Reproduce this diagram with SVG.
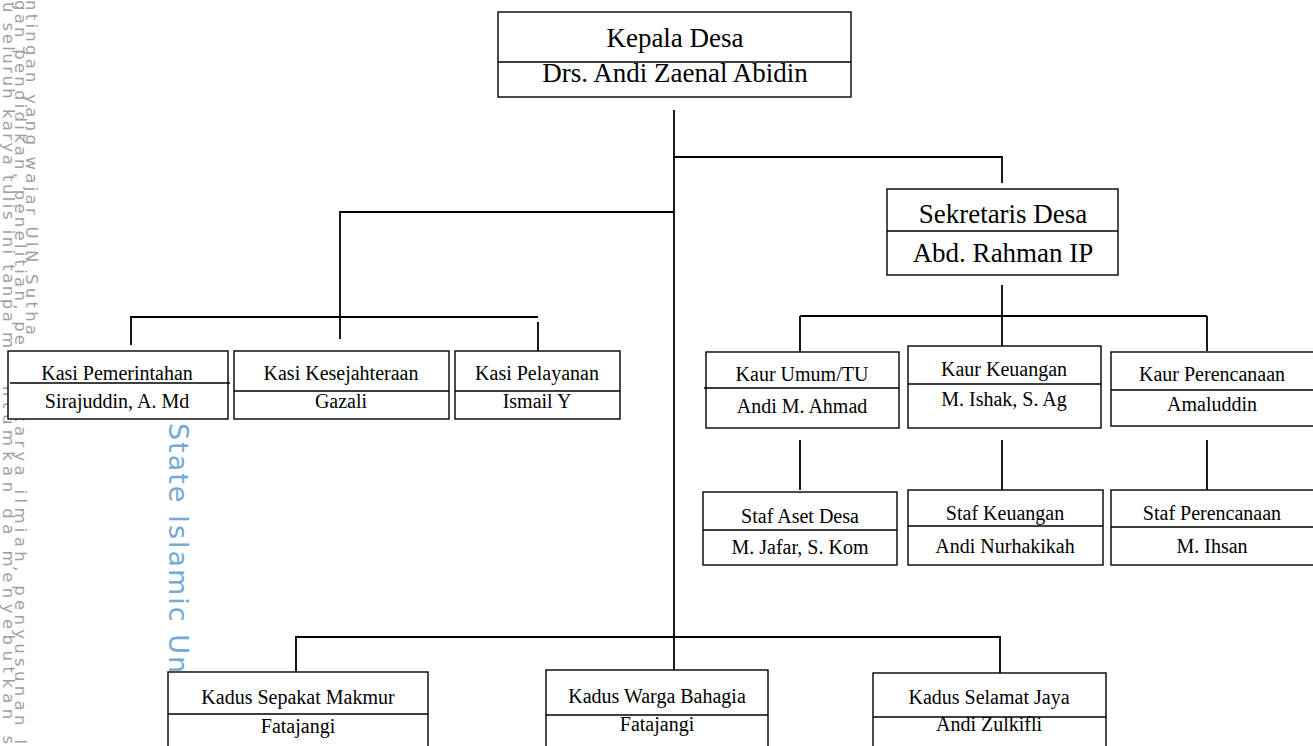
<svg xmlns="http://www.w3.org/2000/svg" width="1313" height="746" viewBox="0 0 1313 746">
<style>
.box{fill:#fff;stroke:#000;stroke-width:1.4}
.div{stroke:#000;stroke-width:1.6}
.con{fill:none;stroke:#000;stroke-width:1.8}
.big{font-family:"Liberation Serif","Times New Roman",serif;font-size:27px;text-anchor:middle;fill:#000}
.sm{font-family:"Liberation Serif","Times New Roman",serif;font-size:20px;text-anchor:middle;fill:#000}
.wm{font-family:"DejaVu Sans","Liberation Sans",sans-serif;font-size:16.5px;fill:#a0a0a0}
.wmb{font-family:"DejaVu Sans","Liberation Sans",sans-serif;font-size:27px;fill:#74aad6}
</style>
<rect width="1313" height="746" fill="#fff"/>
<g id="watermark">
<text class="wm" transform="translate(3,2) rotate(90)" textLength="346" lengthAdjust="spacing">u seluruh karya tulis ini tanpa m</text>
<text class="wm" transform="translate(3,386) rotate(90)" textLength="358" lengthAdjust="spacing">ntumkan da menyebutkan s</text>
<text class="wm" transform="translate(14.5,0) rotate(90)" textLength="345" lengthAdjust="spacing">gan pendidikan, penelitian, pe</text>
<text class="wm" transform="translate(14.5,388) rotate(90)" textLength="356" lengthAdjust="spacing">n karya ilmiah, penyusunan l</text>
<text class="wm" transform="translate(26,0) rotate(90)" textLength="335" lengthAdjust="spacing">ntingan yang wajar UIN Sutha</text>
<text class="wmb" transform="translate(169,423) rotate(90)" textLength="250" lengthAdjust="spacing">State Islamic Un</text>
</g>
<g id="connectors">
<path class="con" d="M674 110 V670"/>
<path class="con" d="M674 157 H1002 V183"/>
<path class="con" d="M1002 285 V316"/>
<path class="con" d="M800 316 H1207"/>
<path class="con" d="M800 316 V352 M1002 316 V346 M1207 316 V351"/>
<path class="con" d="M800 440 V490 M1002 440 V490 M1207 440 V490"/>
<path class="con" d="M674 212 H340 V339"/>
<path class="con" d="M131 345 V317 H538"/>
<path class="con" d="M538 322 V351"/>
<path class="con" d="M296 672 V637 H1000 V673"/>
</g>
<g id="kepala-desa">
<rect class="box" x="498" y="12" width="353" height="85"/>
<line class="div" x1="498" y1="62" x2="851" y2="62"/>
<text class="big" x="675" y="47">Kepala Desa</text>
<text class="big" x="675" y="82">Drs. Andi Zaenal Abidin</text>
</g>
<g id="sekretaris-desa">
<rect class="box" x="887" y="189" width="231" height="86"/>
<line class="div" x1="887" y1="231" x2="1118" y2="231"/>
<text class="big" x="1003" y="223">Sekretaris Desa</text>
<text class="big" x="1003" y="262">Abd. Rahman IP</text>
</g>
<g id="kasi-pemerintahan">
<rect class="box" x="8" y="351" width="220" height="68"/>
<line class="div" x1="10" y1="383" x2="230" y2="383"/>
<text class="sm" x="117" y="380">Kasi Pemerintahan</text>
<text class="sm" x="117" y="408">Sirajuddin, A. Md</text>
</g>
<g id="kasi-kesejahteraan">
<rect class="box" x="234" y="351" width="215" height="68"/>
<line class="div" x1="234" y1="391" x2="449" y2="391"/>
<text class="sm" x="341" y="380">Kasi Kesejahteraan</text>
<text class="sm" x="341" y="408">Gazali</text>
</g>
<g id="kasi-pelayanan">
<rect class="box" x="455" y="351" width="165" height="68"/>
<line class="div" x1="455" y1="391" x2="620" y2="391"/>
<text class="sm" x="537" y="380">Kasi Pelayanan</text>
<text class="sm" x="537" y="408">Ismail Y</text>
</g>
<g id="kaur-umum">
<rect class="box" x="706" y="352" width="193" height="76"/>
<line class="div" x1="704" y1="388" x2="899" y2="388"/>
<text class="sm" x="802" y="381">Kaur Umum/TU</text>
<text class="sm" x="802" y="413">Andi M. Ahmad</text>
</g>
<g id="kaur-keuangan">
<rect class="box" x="908" y="346" width="193" height="82"/>
<line class="div" x1="908" y1="384" x2="1101" y2="384"/>
<text class="sm" x="1004" y="376">Kaur Keuangan</text>
<text class="sm" x="1004" y="406">M. Ishak, S. Ag</text>
</g>
<g id="kaur-perencanaan">
<rect class="box" x="1111" y="352" width="205" height="74"/>
<line class="div" x1="1111" y1="390" x2="1313" y2="390"/>
<text class="sm" x="1212" y="381">Kaur Perencanaan</text>
<text class="sm" x="1212" y="411">Amaluddin</text>
</g>
<g id="staf-aset">
<rect class="box" x="703" y="492" width="194" height="73"/>
<line class="div" x1="703" y1="530" x2="897" y2="530"/>
<text class="sm" x="800" y="523">Staf Aset Desa</text>
<text class="sm" x="800" y="554">M. Jafar, S. Kom</text>
</g>
<g id="staf-keuangan">
<rect class="box" x="908" y="490" width="195" height="75"/>
<line class="div" x1="908" y1="526" x2="1103" y2="526"/>
<text class="sm" x="1005" y="520">Staf Keuangan</text>
<text class="sm" x="1005" y="553">Andi Nurhakikah</text>
</g>
<g id="staf-perencanaan">
<rect class="box" x="1111" y="490" width="205" height="75"/>
<line class="div" x1="1111" y1="527" x2="1313" y2="527"/>
<text class="sm" x="1212" y="520">Staf Perencanaan</text>
<text class="sm" x="1212" y="553">M. Ihsan</text>
</g>
<g id="kadus-sepakat-makmur">
<rect class="box" x="168" y="672" width="260" height="80"/>
<line class="div" x1="168" y1="714" x2="428" y2="714"/>
<text class="sm" x="298" y="704">Kadus Sepakat Makmur</text>
<text class="sm" x="298" y="733">Fatajangi</text>
</g>
<g id="kadus-warga-bahagia">
<rect class="box" x="546" y="670" width="222" height="82"/>
<line class="div" x1="546" y1="715" x2="768" y2="715"/>
<text class="sm" x="657" y="703">Kadus Warga Bahagia</text>
<text class="sm" x="657" y="731">Fatajangi</text>
</g>
<g id="kadus-selamat-jaya">
<rect class="box" x="873" y="673" width="233" height="79"/>
<line class="div" x1="873" y1="717" x2="1106" y2="717"/>
<text class="sm" x="989" y="704">Kadus Selamat Jaya</text>
<text class="sm" x="989" y="731">Andi Zulkifli</text>
</g>
</svg>
